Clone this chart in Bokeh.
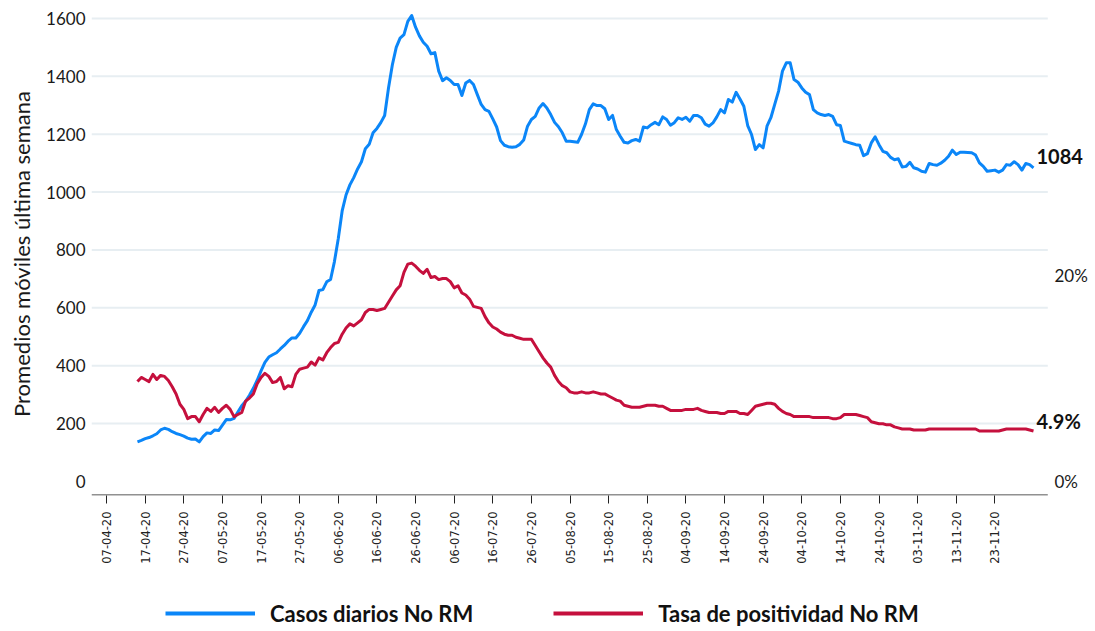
import pandas as pd
from bokeh.plotting import figure
from bokeh.layouts import column
from bokeh.models import (ColumnDataSource, Range1d, LinearAxis, FixedTicker,
                          DatetimeTickFormatter, Legend, LegendItem, Label)
from bokeh.embed import file_html
from bokeh.resources import INLINE

# ---------------- data ----------------
start_date = "2020-04-15"   # first day of both series (daily values)

casos_diarios = [
    137, 142, 148, 152, 158, 165, 178, 184, 180, 172,
    166, 162, 157, 150, 146, 147, 137, 155, 168, 166,
    178, 176, 195, 214, 213, 218, 240, 262, 277, 298,
    322, 350, 382, 412, 430, 438, 445, 458, 470, 485,
    496, 496, 512, 535, 556, 585, 610, 660, 663, 690,
    698, 760, 840, 935, 990, 1025, 1050, 1080, 1105, 1150,
    1165, 1205, 1220, 1240, 1265, 1360, 1440, 1500, 1532, 1544,
    1590, 1610, 1570, 1540, 1518, 1504, 1478, 1482, 1418, 1385,
    1395, 1386, 1372, 1372, 1334, 1377, 1386, 1372, 1337, 1303,
    1285, 1279, 1253, 1225, 1178, 1162, 1157, 1155, 1157, 1165,
    1180, 1228, 1251, 1262, 1291, 1306, 1291, 1268, 1241, 1226,
    1205, 1176, 1176, 1174, 1172, 1200, 1236, 1285, 1305, 1299,
    1299, 1288, 1251, 1265, 1216, 1193, 1172, 1170, 1178, 1182,
    1176, 1225, 1222, 1233, 1241, 1233, 1260, 1251, 1231, 1240,
    1257, 1251, 1259, 1245, 1265, 1265, 1257, 1235, 1228, 1239,
    1260, 1285, 1274, 1320, 1311, 1345, 1322, 1297, 1230, 1199,
    1147, 1164, 1153, 1228, 1257, 1303, 1349, 1418, 1447, 1447,
    1389, 1380, 1360, 1345, 1337, 1285, 1274, 1268, 1265, 1268,
    1262, 1233, 1230, 1176, 1172, 1168, 1164, 1162, 1126, 1133,
    1170, 1191, 1164, 1141, 1136, 1120, 1112, 1115, 1087, 1089,
    1103, 1084, 1080, 1072, 1069, 1099, 1095, 1093, 1100, 1110,
    1124, 1145, 1130, 1138, 1138, 1137, 1136, 1128, 1101, 1089,
    1072, 1074, 1076, 1069, 1076, 1095, 1093, 1105, 1095, 1076,
    1099, 1095, 1084,
]

tasa_positividad = [  # percent
    9.7, 10.1, 9.9, 9.7, 10.4, 9.9, 10.3, 10.2, 9.8, 9.2,
    8.5, 7.5, 7.0, 6.1, 6.3, 6.3, 5.8, 6.5, 7.1, 6.8,
    7.2, 6.7, 7.1, 7.4, 7.0, 6.3, 6.5, 6.7, 7.8, 8.1,
    8.5, 9.5, 10.1, 10.5, 10.2, 9.6, 9.7, 10.1, 9.0, 9.3,
    9.2, 10.4, 10.9, 11.0, 11.1, 11.6, 11.3, 12.0, 11.8, 12.5,
    13.0, 13.4, 13.5, 14.3, 14.9, 15.3, 15.1, 15.4, 15.7, 16.4,
    16.7, 16.7, 16.6, 16.7, 16.8, 17.4, 18.0, 18.6, 19.0, 20.3,
    21.1, 21.2, 20.9, 20.5, 20.2, 20.6, 19.8, 19.9, 19.6, 19.7,
    19.7, 19.4, 18.8, 19.0, 18.3, 18.1, 17.7, 17.0, 16.9, 16.8,
    16.0, 15.4, 15.0, 14.8, 14.5, 14.3, 14.2, 14.2, 14.0, 13.9,
    13.8, 13.8, 13.8, 13.2, 12.6, 12.0, 11.5, 11.1, 10.3, 9.7,
    9.3, 9.1, 8.7, 8.6, 8.6, 8.7, 8.6, 8.6, 8.7, 8.6,
    8.5, 8.5, 8.3, 8.1, 7.9, 7.8, 7.4, 7.3, 7.2, 7.2,
    7.2, 7.3, 7.4, 7.4, 7.4, 7.3, 7.3, 7.1, 6.9, 6.9,
    6.9, 6.9, 7.0, 7.0, 7.0, 7.1, 6.9, 6.8, 6.7, 6.7,
    6.7, 6.6, 6.6, 6.8, 6.8, 6.8, 6.6, 6.6, 6.5, 6.9,
    7.3, 7.4, 7.5, 7.6, 7.6, 7.5, 7.1, 6.8, 6.6, 6.5,
    6.3, 6.3, 6.3, 6.3, 6.3, 6.2, 6.2, 6.2, 6.2, 6.2,
    6.1, 6.1, 6.2, 6.5, 6.5, 6.5, 6.5, 6.4, 6.3, 6.2,
    5.8, 5.7, 5.6, 5.6, 5.5, 5.5, 5.3, 5.2, 5.1, 5.1,
    5.1, 5.0, 5.0, 5.0, 5.0, 5.1, 5.1, 5.1, 5.1, 5.1,
    5.1, 5.1, 5.1, 5.1, 5.1, 5.1, 5.1, 5.1, 4.9, 4.9,
    4.9, 4.9, 4.9, 4.9, 5.0, 5.1, 5.1, 5.1, 5.1, 5.1,
    5.1, 5.0, 4.9,
]

tick_dates = [
    "2020-04-07", "2020-04-17", "2020-04-27", "2020-05-07", "2020-05-17",
    "2020-05-27", "2020-06-06", "2020-06-16", "2020-06-26", "2020-07-06",
    "2020-07-16", "2020-07-26", "2020-08-05", "2020-08-15", "2020-08-25",
    "2020-09-04", "2020-09-14", "2020-09-24", "2020-10-04", "2020-10-14",
    "2020-10-24", "2020-11-03", "2020-11-13", "2020-11-23",
]
y_ticks = [0, 200, 400, 600, 800, 1000, 1200, 1400, 1600]
pct_ticks = [0, 20]

serie_casos = "Casos diarios No RM"
serie_tasa = "Tasa de positividad No RM"
y_label = "Promedios móviles última semana"

# ---------------- build ----------------
fechas = pd.date_range(start_date, periods=len(casos_diarios), freq="D")
src = ColumnDataSource(dict(fecha=fechas, casos=casos_diarios,
                            tasa=tasa_positividad[:len(fechas)]))

def ms(d):
    return pd.Timestamp(d).value // 10**6

W = 1090
LEFT = 91
DAY = 86400000
PX_PER_DAY = 3.87
FRAME_W = W - LEFT - 1
x0 = ms(tick_dates[0]) - 3.9 * DAY
x1 = x0 + FRAME_W / PX_PER_DAY * DAY
grid_end = ms(tick_dates[0]) + 243.7 * DAY

Y0, Y1 = -48.4, 1620.7
PCT_PER_UNIT = 20 / 712.0

BLUE = "#0b86f8"
RED = "#c5103d"
FONT = "Lato"
GRID = "#e7eef2"
INK = "#1a1a1a"

p = figure(width=W, height=598, x_axis_type="datetime",
           x_range=Range1d(x0, x1), y_range=Range1d(Y0, Y1),
           output_backend="svg", toolbar_location=None,
           min_border_left=LEFT, min_border_right=0,
           min_border_top=12, min_border_bottom=103)
p.extra_y_ranges = {"pct": Range1d(Y0 * PCT_PER_UNIT, Y1 * PCT_PER_UNIT)}
p.outline_line_color = None
p.background_fill_color = "white"
p.border_fill_color = "white"
p.grid.visible = False

# horizontal gridlines (stop where the date axis ends)
gy = [t for t in y_ticks if t > 0]
p.segment(x0=[x0] * len(gy), y0=gy, x1=[grid_end] * len(gy), y1=gy,
          line_color=GRID, line_width=2)
# x axis baseline (same extent as the gridlines)
p.segment(x0=[x0], y0=[Y0 + 1.7], x1=[grid_end], y1=[Y0 + 1.7],
          line_color="#222222", line_width=1)

# x axis
xa = p.xaxis[0]
xa.ticker = FixedTicker(ticks=[ms(d) for d in tick_dates])
fmt = "%d-%m-%y"
xa.formatter = DatetimeTickFormatter(milliseconds=fmt, seconds=fmt, minsec=fmt,
                                     minutes=fmt, hourmin=fmt, hours=fmt,
                                     days=fmt, months=fmt, years=fmt)
xa.major_label_orientation = 3.14159265 / 2
xa.major_label_text_font = "DejaVu Sans"
xa.major_label_text_font_size = "11.5px"
xa.major_label_text_color = "#222222"
xa.major_label_standoff = 8
xa.major_tick_out = 8
xa.major_tick_in = 0
xa.minor_tick_out = 0
xa.minor_tick_in = 0
xa.axis_line_color = None
xa.major_tick_line_color = "#222222"
xa.axis_label_standoff = 0

# left axis
ya = p.yaxis[0]
ya.ticker = FixedTicker(ticks=y_ticks)
ya.axis_line_color = None
ya.major_tick_line_color = None
ya.minor_tick_line_color = None
ya.major_tick_out = 0
ya.minor_tick_out = 0
ya.major_label_text_font = FONT
ya.major_label_text_font_size = "17px"
ya.major_label_text_color = INK
ya.major_label_standoff = 6
ya.axis_label = y_label
ya.axis_label_text_font = FONT
ya.axis_label_text_font_size = "22px"
ya.axis_label_text_font_style = "normal"
ya.axis_label_text_color = INK
ya.axis_label_standoff = 8

# right axis (labels drawn just inside the right edge)
ra = LinearAxis(y_range_name="pct", ticker=FixedTicker(ticks=pct_ticks))
ra.major_label_overrides = {t: f"{t}%" for t in pct_ticks}
ra.axis_line_color = None
ra.major_tick_line_color = None
ra.minor_tick_line_color = None
ra.major_tick_out = 0
ra.minor_tick_out = 0
ra.major_tick_in = 0
ra.minor_tick_in = 0
ra.axis_label_standoff = 0
ra.major_label_text_font = FONT
ra.major_label_text_font_size = "17px"
ra.major_label_text_color = INK
ra.major_label_standoff = -33
p.add_layout(ra, "right")

# lines
r_casos = p.line("fecha", "casos", source=src, color=BLUE, line_width=3,
                 line_join="round")
r_tasa = p.line("fecha", "tasa", source=src, color=RED, line_width=3,
                line_join="round", y_range_name="pct")

# end labels
last_x = ms(fechas[-1])
p.add_layout(Label(x=last_x, y=casos_diarios[-1], text=str(casos_diarios[-1]),
                   x_offset=3, y_offset=11, text_baseline="middle",
                   text_align="left", text_font=FONT, text_font_style="bold",
                   text_font_size="20px", text_color="#111111"))
p.add_layout(Label(x=last_x, y=tasa_positividad[-1],
                   text=f"{tasa_positividad[-1]:.1f}%", y_range_name="pct",
                   x_offset=3, y_offset=10, text_baseline="middle",
                   text_align="left", text_font=FONT, text_font_style="bold",
                   text_font_size="20px", text_color="#111111"))

# legend strip below the chart (its series are out of view; only the legend shows)
lg = figure(width=W, height=30, output_backend="svg", toolbar_location=None,
            x_range=Range1d(0, 1), y_range=Range1d(0, 1),
            x_axis_location=None, y_axis_location=None,
            min_border_left=0, min_border_right=0, min_border_top=0,
            min_border_bottom=0)
lg.outline_line_color = None
lg.grid.visible = False
k1 = lg.line("fecha", "casos", source=src, color=BLUE, line_width=4)
k2 = lg.line("fecha", "tasa", source=src, color=RED, line_width=4)
legend = Legend(items=[LegendItem(label=serie_casos, renderers=[k1]),
                       LegendItem(label=serie_tasa, renderers=[k2])],
                location=(74, 1.5), orientation="horizontal",
                glyph_width=90, glyph_height=20, label_height=20,
                label_standoff=15, padding=0, margin=0, spacing=80,
                border_line_alpha=0, background_fill_alpha=0,
                label_text_font=FONT, label_text_font_style="bold",
                label_text_font_size="22px", label_text_color="#111111")
lg.add_layout(legend)

open("out.html", "w").write(file_html(column(p, lg, spacing=0), INLINE))
